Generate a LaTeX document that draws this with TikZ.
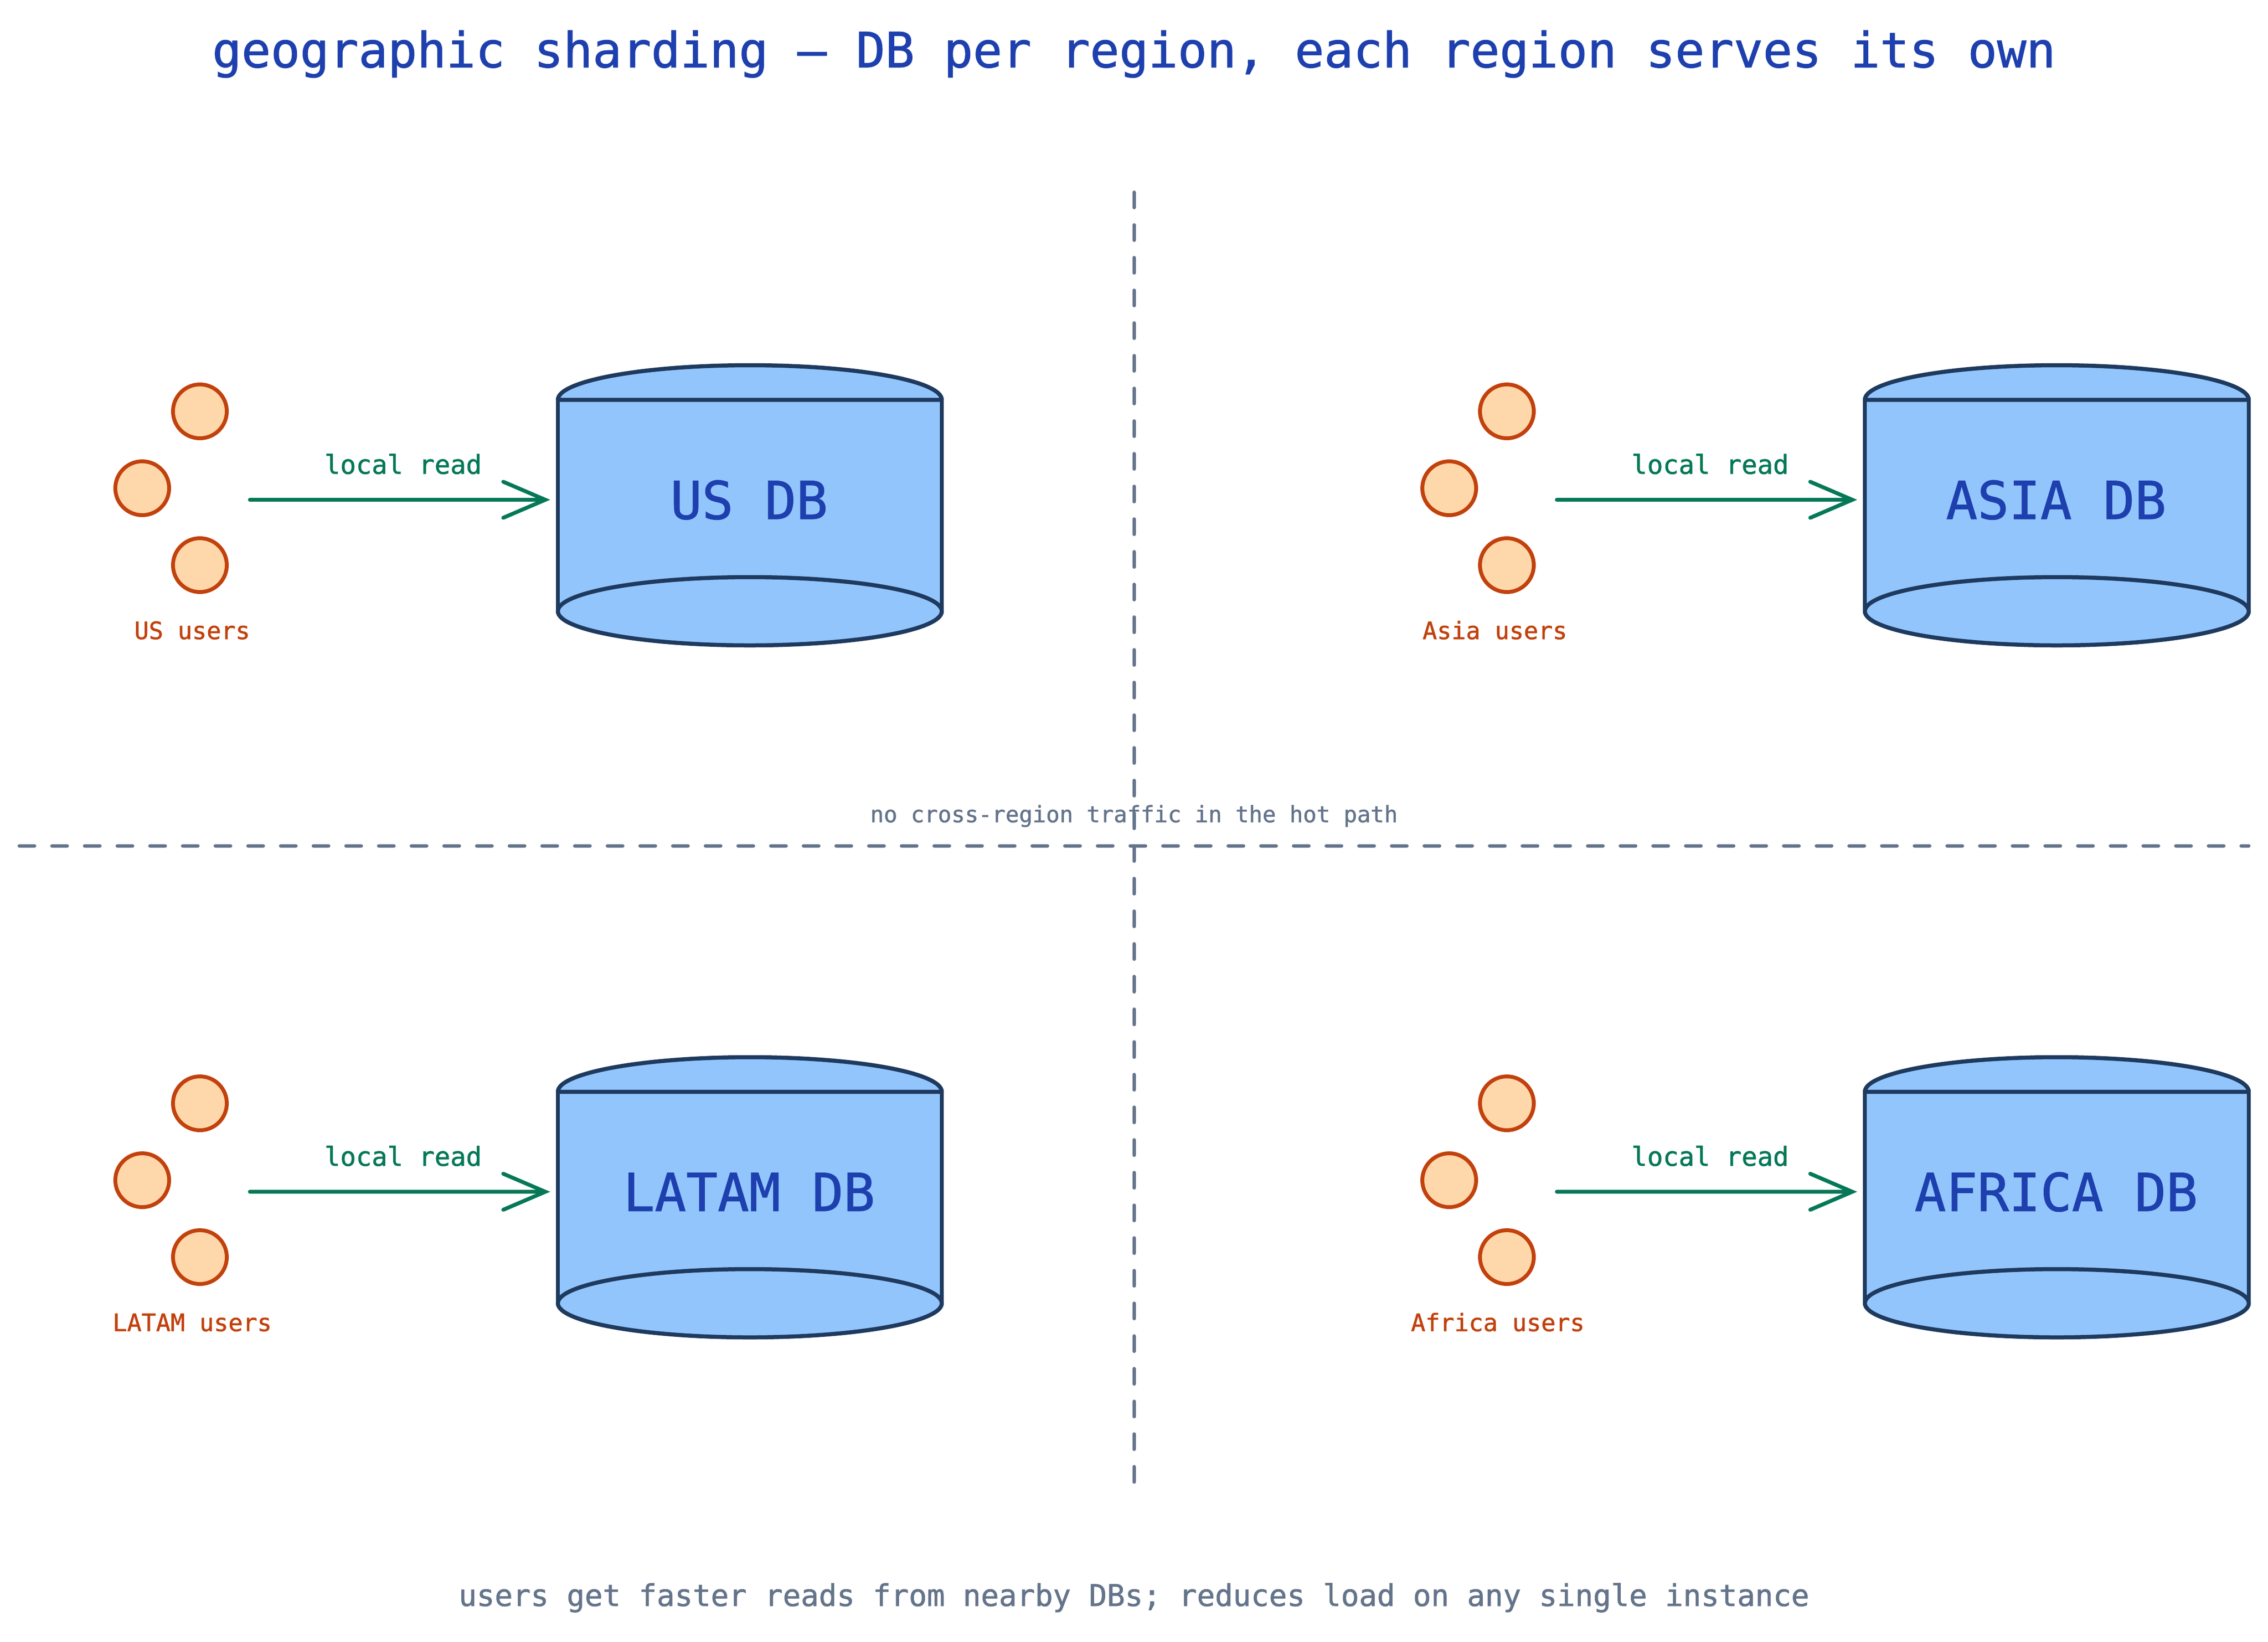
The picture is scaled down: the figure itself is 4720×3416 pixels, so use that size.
\documentclass[tikz,border=0pt]{standalone}
\usepackage{fontspec}
\setmainfont[FakeBold=1.2]{DejaVu Sans Mono}
\usetikzlibrary{arrows.meta,calc}
\definecolor{titleblue}{HTML}{1E40AF}
\definecolor{dbfill}{HTML}{93C5FD}
\definecolor{dbline}{HTML}{1E3A5F}
\definecolor{readgreen}{HTML}{047857}
\definecolor{userline}{HTML}{C2410C}
\definecolor{userfill}{HTML}{FED7AA}
\definecolor{slate}{HTML}{64748B}
\newcommand{\fs}[1]{\fontsize{#1pt}{#1pt}\selectfont}
\tikzset{
  x=0.2pt,y=-0.2pt,
  txt/.style={inner sep=0pt,outer sep=0pt,anchor=base},
  titletxt/.style={txt,text=titleblue,font=\fs{20.23}},
  dbtxt/.style={txt,text=titleblue,font=\fs{21.75}},
  readtxt/.style={txt,text=readgreen,font=\fs{10.87}},
  usertxt/.style={txt,text=userline,font=\fs{10}},
  notetxt/.style={txt,text=slate,font=\fs{9.35}},
  foottxt/.style={txt,text=slate,font=\fs{12.45}},
  userdot/.style={circle,draw=userline,fill=userfill,line width=1.6pt,minimum size=22.4pt,inner sep=0pt},
  dbbody/.style={draw=dbline,fill=dbfill,line width=1.7pt,line join=round},
  dbbox/.style={inner sep=0pt,outer sep=0pt,minimum width=159.8pt,minimum height=88pt},
  readarrow/.style={draw=readgreen,line width=1.6pt,line cap=round,
    -{Straight Barb[length=17.5pt,width=15pt,line cap=round,line width=1.6pt]},shorten >=3.2pt},
  divider/.style={draw=slate,line width=1.4pt,line cap=round,dash pattern=on 6.4pt off 7.2pt}
}
% #1 name, #2 x offset, #3 y offset, #4 db text, #5 users text, #6 users label x
\newcommand{\region}[6]{%
  \begin{scope}[shift={(#2,#3)}]
    \fill[dbfill] (1161,832) arc[start angle=180,end angle=360,x radius=399.5,y radius=72]
       -- (1960,1272) arc[start angle=0,end angle=180,x radius=399.5,y radius=71] -- cycle;
    \draw[dbbody] (1161,832) arc[start angle=180,end angle=360,x radius=399.5,y radius=72] -- cycle;
    \draw[dbbody,fill=none] (1161,832) -- (1161,1272) (1960,832) -- (1960,1272);
    \node[dbbox] (#1db) at (1560.5,1052) {};
    \draw[dbbody] (1560.5,1272) ellipse[x radius=399.5,y radius=71];
    \node[dbtxt] (#1label) at (1559,1080) {#4};
    \node[userdot] (#1a) at (416,856) {};
    \node[userdot] (#1b) at (296,1016) {};
    \node[userdot] (#1c) at (416,1176) {};
    \node[usertxt] (#1users) at (#6,1330) {#5};
    \coordinate (#1from) at (520,1040);
    \draw[readarrow] (#1from) -- (#1from -| #1db.west);
    \node[readtxt] (#1read) at (839,986) {local read};
  \end{scope}}
\begin{document}
\begin{tikzpicture}
\useasboundingbox (0,0) rectangle (4720,3416);
\fill[white] (0,0) rectangle (4720,3416);
\node[titletxt] (title) at (2360,140) {geographic sharding — DB per region, each region serves its own};
\coordinate (vtop) at (2360,400);
\coordinate (vbot) at (2360,3092);
\coordinate (hleft) at (40,1760);
\coordinate (hright) at (4680,1760);
\draw[divider] (vtop) -- (vbot);
\draw[divider] (hleft) -- (hright);
\node[notetxt] (note) at (2360,1711) {no cross-region traffic in the hot path};
\region{us}{0}{0}{US DB}{US users}{400}
\region{asia}{2720}{0}{ASIA DB}{Asia users}{391}
\region{latam}{0}{1440}{LATAM DB}{LATAM users}{400}
\region{africa}{2720}{1440}{AFRICA DB}{Africa users}{397}
\node[foottxt] (foot) at (2360,3342) {users get faster reads from nearby DBs; reduces load on any single instance};
\end{tikzpicture}
\end{document}
